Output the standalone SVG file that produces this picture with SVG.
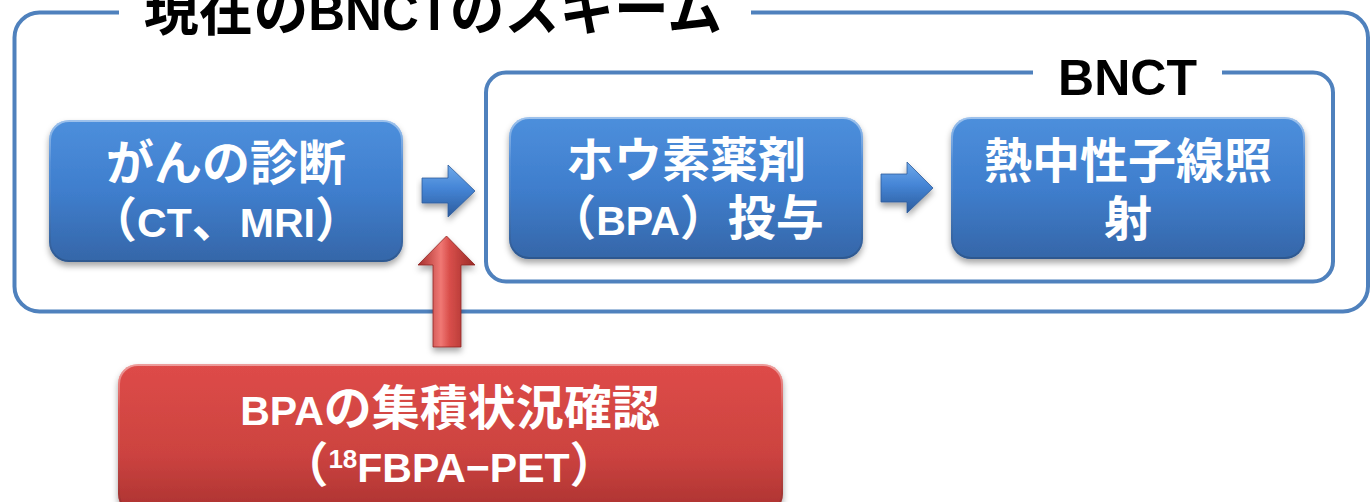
<svg xmlns="http://www.w3.org/2000/svg" width="1370" height="502" viewBox="0 0 1370 502">
<defs>
  <style>
    .frame { fill: none; stroke: #4f81bd; stroke-width: 4; }
    .ttl { font-family: "Noto Sans CJK JP", sans-serif; font-weight: bold; fill: #000; }
    .lat { font-family: "Liberation Sans", "Noto Sans CJK JP", sans-serif; font-weight: bold; }
    .t { font-family: "Noto Sans CJK JP", sans-serif; font-weight: bold; font-size: 48px; fill: #fff; text-anchor: middle; }
    .l { font-family: "Liberation Sans", "Noto Sans CJK JP", sans-serif; font-size: 41px; }
    .sup { font-family: "Liberation Sans", sans-serif; font-size: 26px; }
    .bluebox { fill: url(#gBlue); filter: url(#shadow); }
    .redbox { fill: url(#gRed); filter: url(#shadow); }
    .bevel { fill: none; stroke: url(#gHi); stroke-width: 2; }
    .barrow { fill: url(#gArrowBlue); stroke: #2d5c9a; stroke-width: 0.8; filter: url(#shadow); }
    .rarrow { fill: url(#gArrowRed); stroke: #8e2421; stroke-width: 0.8; filter: url(#shadow); }
  </style>
  <linearGradient id="gBlue" x1="0" y1="0" x2="0" y2="1">
    <stop offset="0" stop-color="#4d8fdc"/>
    <stop offset="0.5" stop-color="#3f7ecd"/>
    <stop offset="1" stop-color="#3566a8"/>
  </linearGradient>
  <linearGradient id="gRed" x1="0" y1="0" x2="0" y2="1">
    <stop offset="0" stop-color="#de4b48"/>
    <stop offset="0.6" stop-color="#cc4340"/>
    <stop offset="1" stop-color="#ab3230"/>
  </linearGradient>
  <linearGradient id="gHi" x1="0" y1="0" x2="0" y2="1">
    <stop offset="0" stop-color="#fff" stop-opacity="0.45"/>
    <stop offset="0.3" stop-color="#fff" stop-opacity="0.08"/>
    <stop offset="1" stop-color="#000" stop-opacity="0.15"/>
  </linearGradient>
  <linearGradient id="gArrowBlue" x1="0" y1="0" x2="0" y2="1">
    <stop offset="0" stop-color="#6ea9ea"/>
    <stop offset="0.45" stop-color="#4585d6"/>
    <stop offset="1" stop-color="#2c5b9c"/>
  </linearGradient>
  <linearGradient id="gArrowRed" x1="0" y1="0" x2="1" y2="0">
    <stop offset="0" stop-color="#a52e2b"/>
    <stop offset="0.4" stop-color="#f07874"/>
    <stop offset="0.55" stop-color="#d94f4b"/>
    <stop offset="1" stop-color="#9a2a27"/>
  </linearGradient>
  <filter id="shadow" x="-10%" y="-10%" width="120%" height="130%">
    <feDropShadow dx="0" dy="4" stdDeviation="3" flood-color="#000" flood-opacity="0.35"/>
  </filter>
</defs>

<g id="frame-scheme">
  <path class="frame" d="M119 12.5 H39.5 A25 25 0 0 0 14.5 37.5 V286.5 A25 25 0 0 0 39.5 311.5 H1343 A25 25 0 0 0 1368 286.5 V37.5 A25 25 0 0 0 1343 12.5 H751"/>
  <text class="ttl" x="144" y="30" font-size="58" textLength="578" lengthAdjust="spacingAndGlyphs">現在の<tspan class="lat" font-size="54">BNCT</tspan>のスキーム</text>
</g>

<g id="frame-bnct">
  <path class="frame" d="M1033 72.5 H506 A20 20 0 0 0 486 92.5 V261.5 A20 20 0 0 0 506 281.5 H1313 A20 20 0 0 0 1333 261.5 V92.5 A20 20 0 0 0 1313 72.5 H1222"/>
  <text class="lat" x="1127.5" y="95" font-size="50" text-anchor="middle" fill="#000">BNCT</text>
</g>

<g id="node-diagnosis">
  <rect class="bluebox" x="49" y="120" width="354" height="142" rx="20"/>
  <rect class="bevel" x="50" y="121" width="352" height="140" rx="19"/>
  <text class="t" x="226" y="180">がんの診断</text>
  <text class="t" x="226" y="237">（<tspan class="l">CT</tspan>、<tspan class="l">MRI</tspan>）</text>
</g>

<g id="node-boron">
  <rect class="bluebox" x="509" y="117" width="354" height="142" rx="20"/>
  <rect class="bevel" x="510" y="118" width="352" height="140" rx="19"/>
  <text class="t" x="686" y="177">ホウ素薬剤</text>
  <text class="t" x="686" y="235">（<tspan class="l">BPA</tspan>）投与</text>
</g>

<g id="node-neutron">
  <rect class="bluebox" x="951" y="117" width="354" height="142" rx="20"/>
  <rect class="bevel" x="952" y="118" width="352" height="140" rx="19"/>
  <text class="t" x="1128" y="178">熱中性子線照</text>
  <text class="t" x="1128" y="236">射</text>
</g>

<g id="node-pet">
  <rect class="redbox" x="118" y="364" width="665" height="150" rx="20"/>
  <rect class="bevel" x="119" y="365" width="663" height="148" rx="19"/>
  <text class="t" x="450" y="425"><tspan class="l">BPA</tspan>の集積状況確認</text>
  <text class="t" x="449" y="482">（<tspan class="sup" dy="-14">18</tspan><tspan class="l" dy="14">FBPA−PET</tspan>）</text>
</g>

<g id="connectors">
  <polygon class="barrow" points="422,178 448,178 448,165 475,191 448,217 448,203 422,203"/>
  <polygon class="barrow" points="881,174 907,174 907,162 933,188 907,213 907,202 881,202"/>
  <polygon class="rarrow" points="446.5,236 475,265 461,265 461,347 433,347 433,265 418,265"/>
</g>
</svg>
